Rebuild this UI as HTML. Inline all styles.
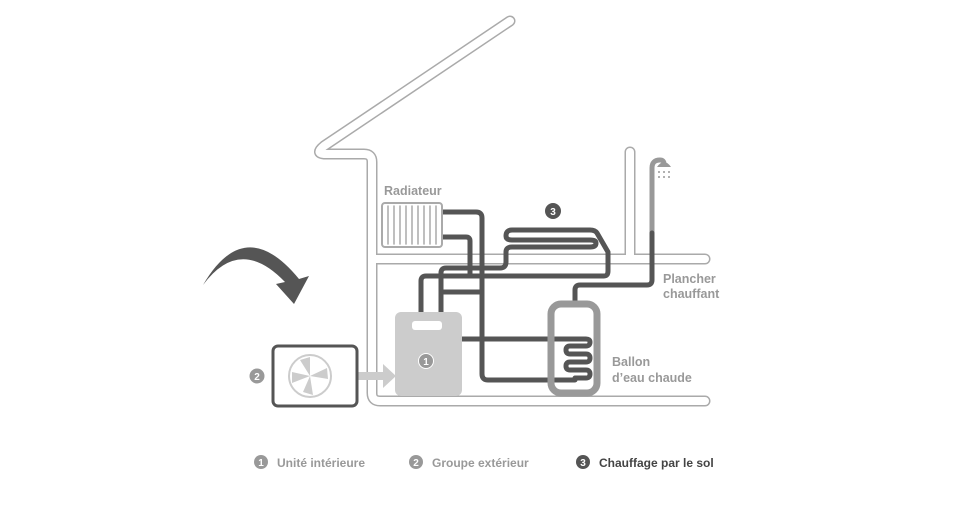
<!DOCTYPE html>
<html><head><meta charset="utf-8"><style>
html,body{margin:0;padding:0;background:#fff;}
body{width:958px;height:502px;overflow:hidden;font-family:"Liberation Sans",sans-serif;}
</style></head><body>
<svg width="958" height="502" viewBox="0 0 958 502" xmlns="http://www.w3.org/2000/svg">
<rect width="958" height="502" fill="#fff"/>
<g fill="none" stroke-linecap="round" stroke-linejoin="round">
 <g stroke="#aaa" stroke-width="11">
  <path d="M510,21 L324,146 Q314,154 326,154 L364,154 Q372,154 372,162 L372,393 Q372,401 380,401 L705,401"/>
  <path d="M372,259 L705,259"/>
  <path d="M630,152 L630,259"/>
 </g>
 <g stroke="#fff" stroke-width="8">
  <path d="M510,21 L324,146 Q314,154 326,154 L364,154 Q372,154 372,162 L372,393 Q372,401 380,401 L705,401"/>
  <path d="M375,259 L705,259"/>
  <path d="M630,152 L630,259"/>
 </g>
 <!-- shower -->
 <path d="M652,233 V168 Q652,160 660,160 Q664,160 664,164" stroke="#999" stroke-width="5"/>
 <!-- dark pipes -->
 <g stroke="#555" stroke-width="5">
  <path d="M652,233 V280 Q652,285 647,285 H580 Q575,285 575,290 V302"/>
  <path d="M442,212 H476 Q482,212 482,218 V374 Q482,380 488,380 H575"/>
  <path d="M442,237 H466 Q470,237 470,241 V276"/>
  <path d="M421,314 V281 Q421,276 426,276 H604 Q608,276 608,271 V252 L597,233 Q595,230 590,230 H512 Q506,230 506,236 Q506,240 512,240 H590 Q596,240 596,243 Q596,247 590,247 H512 Q506,247 506,252 V262 Q506,268 500,268 H446 Q441,268 441,273 V314"/>
  <path d="M441,292 H482"/>
  <path d="M462,339 H555"/>
  <path d="M575,378 H586 Q590,378 590,374 Q590,370 586,370 H570 Q566,370 566,366 Q566,362 570,362 H586 Q590,362 590,358 Q590,354 586,354 H570 Q566,354 566,350 Q566,346 570,346 H586 Q590,346 590,342 Q590,339 586,339 H555"/>
 </g>
 <rect x="551" y="304" width="46" height="89" rx="10" stroke="#999" stroke-width="7"/>
 <!-- radiator -->
 <rect x="382" y="203" width="60" height="44" rx="3" stroke="#aaa" stroke-width="2" fill="#fff"/>
 <g stroke="#aaa" stroke-width="1.5">
  <path d="M388,206 V244 M394,206 V244 M400,206 V244 M406,206 V244 M412,206 V244 M418,206 V244 M424,206 V244 M430,206 V244 M436,206 V244"/>
 </g>
</g>
<!-- shower head -->
<path d="M657,167 Q664,157 671,167 Z" fill="#999"/>
<g fill="#999"><circle cx="659" cy="172" r="1"/><circle cx="664" cy="172" r="1"/><circle cx="669" cy="172" r="1"/><circle cx="659" cy="177" r="1"/><circle cx="664" cy="177" r="1"/><circle cx="669" cy="177" r="1"/></g>
<!-- indoor unit -->
<rect x="395" y="312" width="67" height="84" rx="6" fill="#ccc"/>
<rect x="412" y="321" width="30" height="9" rx="3" fill="#fff"/>
<circle cx="426" cy="361" r="7.5" fill="#999" stroke="#fff" stroke-width="1"/>
<text x="426" y="365" font-size="10" font-weight="bold" fill="#fff" text-anchor="middle">1</text>
<!-- arrow light -->
<path d="M347,372 H383 V364 L396,376 L383,388 V380 H347 Z" fill="#ccc"/>
<!-- outdoor unit -->
<rect x="273" y="346" width="84" height="60" rx="5" fill="#fff" stroke="#555" stroke-width="3"/>
<circle cx="310" cy="376" r="21" fill="none" stroke="#ccc" stroke-width="2"/>
<g fill="#ccc">
 <path d="M310,376 L300,360 L310,357 Z"/>
 <path d="M310,376 L327,368 L328,379 Z"/>
 <path d="M310,376 L313,395 L303,392 Z"/>
 <path d="M310,376 L292,383 L292,372 Z"/>
</g>
<circle cx="257" cy="376" r="7.5" fill="#999"/>
<text x="257" y="380" font-size="10" font-weight="bold" fill="#fff" text-anchor="middle">2</text>
<!-- curved arrow -->
<path d="M203,285 Q240,235 285,282 L276,284 L294,304 L309,276 L299,279 Q245,213 203,285 Z" fill="#555"/>
<!-- badge 3 -->
<circle cx="553" cy="211" r="8" fill="#555"/>
<text x="553" y="215" font-size="10" font-weight="bold" fill="#fff" text-anchor="middle">3</text>
<!-- labels -->
<g font-size="12.5" font-weight="bold" fill="#999">
 <text x="384" y="195">Radiateur</text>
 <text x="663" y="283">Plancher</text>
 <text x="663" y="298">chauffant</text>
 <text x="612" y="366">Ballon</text>
 <text x="612" y="382">d’eau chaude</text>
</g>
<!-- legend -->
<circle cx="261" cy="462" r="7" fill="#999"/><text x="261" y="466" font-size="10" font-weight="bold" fill="#fff" text-anchor="middle">1</text>
<text x="277" y="467" font-size="12" font-weight="bold" fill="#999">Unité intérieure</text>
<circle cx="416" cy="462" r="7" fill="#999"/><text x="416" y="466" font-size="10" font-weight="bold" fill="#fff" text-anchor="middle">2</text>
<text x="432" y="467" font-size="12" font-weight="bold" fill="#999">Groupe extérieur</text>
<circle cx="583" cy="462" r="7" fill="#555"/><text x="583" y="466" font-size="10" font-weight="bold" fill="#fff" text-anchor="middle">3</text>
<text x="599" y="467" font-size="12" font-weight="bold" fill="#444">Chauffage par le sol</text>
</svg>
</body></html>
